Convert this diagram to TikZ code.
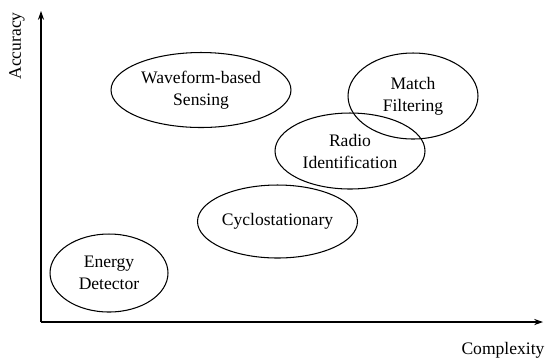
\documentclass[tikz,border=0pt]{standalone}
\usepackage{fontspec}
\setmainfont{Liberation Serif}
\usetikzlibrary{arrows.meta,shapes.geometric,positioning}
\tikzset{
  axis/.style={-{Stealth[length=5pt,width=3.5pt]}, line width=0.6pt},
  method/.style={ellipse, draw, line width=0.6pt, inner sep=0pt, align=center, font=\fontsize{10}{12.5}\selectfont},
  axis label/.style={font=\fontsize{10}{12}\selectfont},
}

\begin{document}
\begin{tikzpicture}[x=0.02cm, y=-0.02cm]
  \useasboundingbox (0,0) rectangle (546,360);

  % Axes
  \coordinate (origin) at (41,322);
  \coordinate (ytip) at (41,11);
  \coordinate (xtip) at (543,322);
  \draw[axis] (origin) -- (ytip);
  \draw[axis] (origin) -- (xtip);
  \node[axis label, rotate=90] (accuracy) at (17,46) {Accuracy};
  \node[axis label] (complexity) at (503,350) {Complexity};

  % Sensing methods
  \node[method, minimum width=3.6cm, minimum height=1.5cm] (waveform) at (201,90) {Waveform-based\\Sensing};
  \node[method, minimum width=2.6cm, minimum height=1.72cm] (match) at (413,96) {Match\\Filtering};
  \node[method, minimum width=3.0cm, minimum height=1.52cm] (radio) at (350,151) {Radio\\Identification};
  \node[method, minimum width=3.2cm, minimum height=1.46cm] (cyclo) at (277.5,221.5) {Cyclostationary};
  \node[method, minimum width=2.36cm, minimum height=1.56cm] (energy) at (109,273) {Energy\\Detector};
\end{tikzpicture}
\end{document}
